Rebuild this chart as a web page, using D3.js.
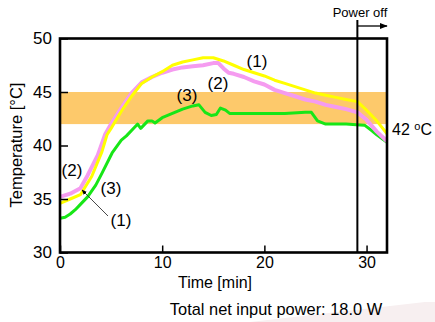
<!DOCTYPE html>
<html>
<head>
<meta charset="utf-8">
<script src="https://cdn.jsdelivr.net/npm/d3@7"></script>
<style>
  body { margin: 0; background: #fff; }
  svg { display: block; font-family: "Liberation Sans", Arial, sans-serif; }
</style>
</head>
<body>
<svg id="chart" width="435" height="322"></svg>
<script>
// curve (1) yellow
const timeY = [0, 1, 2, 3.1, 4.1, 4.6, 5, 6, 7, 8, 9, 10, 11, 12, 13, 14, 15, 16, 17, 18, 19, 20, 21, 22, 23, 24, 25, 26, 27, 28, 29.1, 30, 31, 32]
const tempY = [34.6, 35.0, 35.4, 37.1, 39.4, 41.0, 41.6, 43.2, 44.6, 45.8, 46.4, 46.9, 47.5, 47.8, 48.0, 48.2, 48.2, 47.9, 47.5, 47.1, 46.8, 46.5, 46.1, 45.8, 45.5, 45.2, 44.9, 44.7, 44.5, 44.3, 44.1, 43.3, 42.3, 41.1]
// curve (2) pink
const timeP = [0, 1, 2, 2.7, 3.7, 4.4, 5, 6, 7, 8, 9, 10, 11, 12, 13, 14, 15, 15.5, 16, 16.5, 17, 18, 19, 20, 21, 22, 23, 24, 25, 26, 27, 28, 29.1, 30, 31, 32]
const tempP = [35.2, 35.5, 36.0, 37.2, 39.1, 41.0, 42.0, 43.5, 44.9, 45.9, 46.4, 46.8, 47.1, 47.3, 47.4, 47.5, 47.7, 47.7, 47.2, 46.8, 46.7, 46.4, 46.0, 45.7, 45.2, 44.9, 44.6, 44.3, 44.1, 43.8, 43.6, 43.4, 43.1, 42.4, 41.3, 40.4]
// curve (3) green
const timeG = [0, 0.5, 1, 1.5, 2, 2.7, 3.5, 4.1, 5.1, 6, 6.5, 7.3, 7.6, 7.9, 8.6, 9, 9.3, 10, 11, 12, 13, 13.6, 14.2, 14.8, 15.3, 15.7, 16.2, 16.6, 18, 20, 22, 24, 24.6, 25.2, 26, 27, 28, 29, 29.8, 30.5, 31, 32]
const tempG = [33.2, 33.3, 33.6, 34.0, 34.5, 35.2, 36.3, 37.4, 39.3, 40.5, 40.9, 41.7, 42.0, 41.6, 42.3, 42.3, 42.1, 42.6, 43.0, 43.4, 43.7, 43.8, 43.1, 42.8, 42.9, 43.5, 43.3, 43.0, 43.0, 43.0, 43.0, 43.1, 43.1, 42.3, 42.0, 42.0, 42.0, 41.95, 41.9, 41.4, 41.0, 40.3]

const xTicks = [0, 10, 20, 30]
const yTicks = [30, 35, 40, 45, 50]
const band = [42, 45]
const powerOffTime = 29.1

const W = 435, H = 322
const X0 = 60, X1 = 387, Y0 = 38.5, Y1 = 252.5

const svg = d3.select('#chart')
const x = d3.scaleLinear().domain([0, 32]).range([X0, X1])
const y = d3.scaleLinear().domain([30, 50]).range([Y1, Y0])

svg.append('defs').append('marker')
  .attr('id', 'ah').attr('viewBox', '0 0 10 10').attr('refX', 9).attr('refY', 5)
  .attr('markerWidth', 6).attr('markerHeight', 6).attr('orient', 'auto-start-reverse')
  .append('path').attr('d', 'M0,1 L10,5 L0,9 z').attr('fill', '#000')

// faint shadow at the bottom right
svg.append('path')
  .attr('d', `M250,${H} L425,302 L${W},302 L${W},${H} Z`)
  .attr('fill', '#f7eff0')

// comfort band
svg.append('rect')
  .attr('x', X0).attr('y', y(band[1]))
  .attr('width', X1 - X0).attr('height', y(band[0]) - y(band[1]))
  .attr('fill', '#fdc96b')

const line = d3.line().x(d => x(d[0])).y(d => y(d[1]))
const series = [
  { t: timeG, v: tempG, color: '#17e617', w: 3 },
  { t: timeP, v: tempP, color: '#f59bf0', w: 4 },
  { t: timeY, v: tempY, color: '#ffff00', w: 3 },
]
series.forEach(s => {
  svg.append('path')
    .datum(s.t.map((t, i) => [t, s.v[i]]))
    .attr('d', line)
    .attr('fill', 'none')
    .attr('stroke', s.color)
    .attr('stroke-width', s.w)
    .attr('stroke-linejoin', 'round')
})

// axes, ticks pointing inward
const gx = svg.append('g').attr('transform', `translate(0,${Y1})`)
  .call(d3.axisBottom(x).tickValues(xTicks).tickSizeInner(-7).tickSizeOuter(0).tickPadding(4.5))
gx.select('.domain').remove()
gx.selectAll('line').attr('stroke', '#000').attr('stroke-width', 1.5)
gx.selectAll('text').attr('font-size', 16).attr('fill', '#000').attr('font-family', null)

const gy = svg.append('g').attr('transform', `translate(${X0},0)`)
  .call(d3.axisLeft(y).tickValues(yTicks).tickSizeInner(-8).tickSizeOuter(0).tickPadding(8))
gy.select('.domain').remove()
gy.selectAll('line').attr('stroke', '#000').attr('stroke-width', 1.5)
gy.selectAll('text').attr('font-size', 17).attr('fill', '#000').attr('font-family', null)

svg.append('rect')
  .attr('x', X0).attr('y', Y0).attr('width', X1 - X0).attr('height', Y1 - Y0)
  .attr('fill', 'none').attr('stroke', '#000').attr('stroke-width', 2.6)

// power off marker
svg.append('line')
  .attr('x1', x(powerOffTime)).attr('x2', x(powerOffTime))
  .attr('y1', 20).attr('y2', Y1)
  .attr('stroke', '#000').attr('stroke-width', 2)
svg.append('line')
  .attr('x1', x(powerOffTime)).attr('x2', X1)
  .attr('y1', 26).attr('y2', 26)
  .attr('stroke', '#000').attr('stroke-width', 1.3)
  .attr('marker-end', 'url(#ah)')
svg.append('text').text('Power off')
  .attr('x', 360).attr('y', 17).attr('text-anchor', 'middle').attr('font-size', 13)

// 42 °C label
const t42 = svg.append('text').attr('x', 392).attr('y', y(42) + 11).attr('font-size', 16)
t42.append('tspan').text('42 ')
t42.append('tspan').text('o').attr('font-size', 11).attr('dy', -5)
t42.append('tspan').text('C').attr('dy', 5)

// curve labels
const labels = [
  ['(1)', 257, 67], ['(2)', 218, 89], ['(3)', 187, 101],
  ['(2)', 72, 176], ['(3)', 111, 194], ['(1)', 121, 226],
]
labels.forEach(([s, lx, ly]) => {
  svg.append('text').text(s).attr('x', lx).attr('y', ly)
    .attr('text-anchor', 'middle').attr('font-size', 17)
})
svg.append('line')
  .attr('x1', 108).attr('y1', 216).attr('x2', 82).attr('y2', 190)
  .attr('stroke', '#333').attr('stroke-width', 0.9)
  .attr('marker-end', 'url(#ah)')

// axis titles
svg.append('text').text('Temperature [°C]')
  .attr('transform', `translate(22,145) rotate(-90)`)
  .attr('text-anchor', 'middle').attr('font-size', 16.5)
svg.append('text').text('Time [min]')
  .attr('x', 215).attr('y', 288).attr('text-anchor', 'middle').attr('font-size', 16)
svg.append('text').text('Total net input power: 18.0 W')
  .attr('x', 276).attr('y', 315).attr('text-anchor', 'middle').attr('font-size', 16.4)
</script>
</body>
</html>
